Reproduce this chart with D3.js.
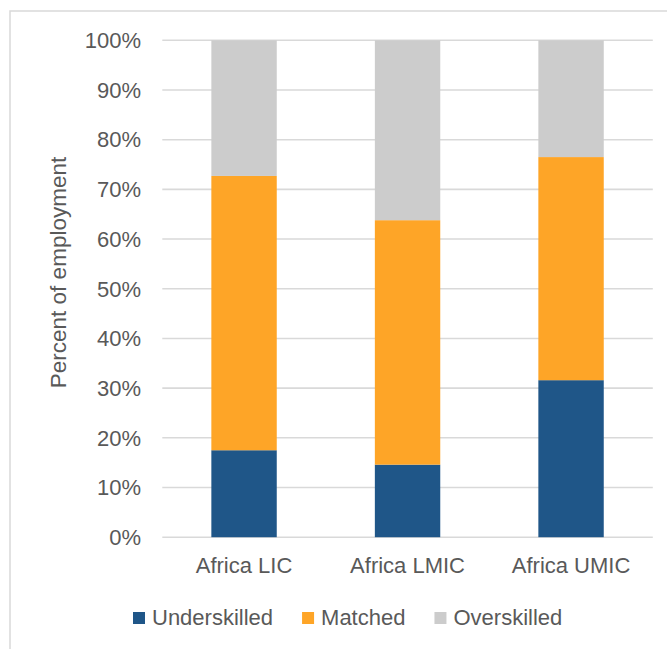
<!DOCTYPE html>
<html>
<head>
<meta charset="utf-8">
<script src="https://cdn.jsdelivr.net/npm/d3@7/dist/d3.min.js"></script>
<style>
  html, body { margin: 0; padding: 0; background: #fff; }
  svg { display: block; }
  text { font-family: "Liberation Sans", Arial, sans-serif; fill: #595959; }
</style>
</head>
<body>
<svg id="chart" width="667" height="649"></svg>
<script>
// Skill match shares of employment by income group
const categories = ["Africa LIC", "Africa LMIC", "Africa UMIC"];
const underskilled = [0.175, 0.146, 0.316];
const matched = [0.552, 0.492, 0.449];
const overskilled = [0.273, 0.362, 0.235];
const seriesNames = ["Underskilled", "Matched", "Overskilled"];
const seriesColors = ["#1F5688", "#FEA527", "#CCCCCC"];
const yTicks = [0, 0.1, 0.2, 0.3, 0.4, 0.5, 0.6, 0.7, 0.8, 0.9, 1.0];

const rows = categories.map((c, i) => ({
  category: c,
  Underskilled: underskilled[i],
  Matched: matched[i],
  Overskilled: overskilled[i]
}));

const svg = d3.select("#chart");
const fontSize = 22;

// outer frame
svg.append("rect")
  .attr("x", 10).attr("y", 11)
  .attr("width", 720).attr("height", 720)
  .attr("fill", "none")
  .attr("stroke", "#D9D9D9")
  .attr("stroke-width", 1.5);

const x = d3.scaleBand()
  .domain(categories)
  .range([162.3, 652.8])
  .paddingInner(0.6)
  .paddingOuter(0.3);

const y = d3.scaleLinear()
  .domain([0, 1])
  .range([537.2, 40.3]);

// horizontal gridlines
svg.append("g")
  .selectAll("line")
  .data(yTicks)
  .join("line")
  .attr("x1", 162.3).attr("x2", 652.8)
  .attr("y1", d => y(d)).attr("y2", d => y(d))
  .attr("stroke", "#D9D9D9")
  .attr("stroke-width", 1.6);

// y axis labels
const yAxis = d3.axisLeft(y)
  .tickValues(yTicks)
  .tickFormat(d3.format(".0%"))
  .tickSize(0)
  .tickPadding(0);
const yG = svg.append("g")
  .attr("transform", "translate(141,0)")
  .call(yAxis);
yG.select(".domain").remove();
yG.selectAll("text")
  .attr("font-size", fontSize)
  .attr("font-family", "Liberation Sans, Arial, sans-serif")
  .attr("fill", "#595959")
  .attr("dy", "0.33em");

// stacked bars
const stack = d3.stack().keys(seriesNames);
const layers = stack(rows);

svg.append("g")
  .selectAll("g")
  .data(layers)
  .join("g")
  .attr("fill", (d, i) => seriesColors[i])
  .selectAll("rect")
  .data(d => d)
  .join("rect")
  .attr("x", d => x(d.data.category))
  .attr("width", x.bandwidth())
  .attr("y", d => y(d[1]))
  .attr("height", d => y(d[0]) - y(d[1]));

// x axis labels
const xAxis = d3.axisBottom(x).tickSize(0).tickPadding(0);
const xG = svg.append("g")
  .attr("transform", "translate(0,557)")
  .call(xAxis);
xG.select(".domain").remove();
xG.selectAll("text")
  .attr("font-size", fontSize)
  .attr("font-family", "Liberation Sans, Arial, sans-serif")
  .attr("fill", "#595959")
  .attr("dy", "0.72em");

// y axis title
svg.append("text")
  .attr("transform", "translate(66,272.5) rotate(-90)")
  .attr("text-anchor", "middle")
  .attr("font-size", 22.5)
  .text("Percent of employment");

// legend
const legend = svg.append("g").attr("transform", "translate(133,625)");
let cursor = 0;
seriesNames.forEach((name, i) => {
  const item = legend.append("g").attr("transform", `translate(${cursor},0)`);
  item.append("rect")
    .attr("x", 0).attr("y", -13)
    .attr("width", 12).attr("height", 12)
    .attr("fill", seriesColors[i]);
  const t = item.append("text")
    .attr("x", 19).attr("y", 0)
    .attr("font-size", fontSize)
    .text(name);
  cursor += 19 + t.node().getComputedTextLength() + 29;
});
</script>
</body>
</html>
